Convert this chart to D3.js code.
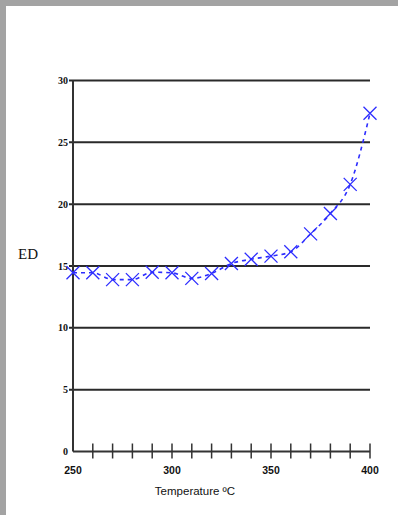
<!DOCTYPE html>
<html>
<head>
<meta charset="utf-8">
<script src="https://cdn.jsdelivr.net/npm/d3@7"></script>
<style>
  html, body { margin: 0; padding: 0; background: #a3a3a3; }
  svg { display: block; }
</style>
</head>
<body>
<svg id="chart" width="398" height="515"></svg>
<script>
// Temperature (°C) readings and ED values
const temperatures = [250, 260, 270, 280, 290, 300, 310, 320, 330, 340, 350, 360, 370, 380, 390, 400];
const edValues = [14.45, 14.45, 13.9, 13.9, 14.5, 14.45, 14.0, 14.4, 15.2, 15.55, 15.8, 16.15, 17.6, 19.25, 21.6, 27.35];
const yTicks = [0, 5, 10, 15, 20, 25, 30];
const xLabelTicks = [250, 300, 350, 400];
const xMinorTicks = [260, 270, 280, 290, 300, 310, 320, 330, 340, 350, 360, 370, 380, 390, 400];

const svg = d3.select("#chart");

// white page area inside the grey frame
svg.append("rect").attr("x", 6).attr("y", 6).attr("width", 392).attr("height", 509).attr("fill", "#ffffff");

const x = d3.scaleLinear().domain([250, 400]).range([73, 370]);
const y = d3.scaleLinear().domain([0, 30]).range([451.5, 80.5]);

// horizontal gridlines
svg.append("g").selectAll("line")
  .data(yTicks.filter(d => d > 0))
  .join("line")
  .attr("x1", 69).attr("x2", x(400))
  .attr("y1", d => y(d)).attr("y2", d => y(d))
  .attr("stroke", "#2a2a2a").attr("stroke-width", 2);

// y axis line
svg.append("line")
  .attr("x1", x(250)).attr("x2", x(250))
  .attr("y1", y(30)).attr("y2", y(0))
  .attr("stroke", "#333").attr("stroke-width", 2);

// x axis line
svg.append("line")
  .attr("x1", x(250)).attr("x2", x(400))
  .attr("y1", y(0)).attr("y2", y(0))
  .attr("stroke", "#333").attr("stroke-width", 2);

// x tick marks crossing the axis
svg.append("g").selectAll("line")
  .data(xMinorTicks)
  .join("line")
  .attr("x1", d => x(d)).attr("x2", d => x(d))
  .attr("y1", y(0) - 8).attr("y2", y(0) + 7)
  .attr("stroke", "#333").attr("stroke-width", 1.5);

// y tick labels
svg.append("g").selectAll("text")
  .data(yTicks)
  .join("text")
  .attr("x", 68).attr("y", d => y(d) + 3.5)
  .attr("text-anchor", "end")
  .attr("font-family", "Liberation Serif, serif")
  .attr("font-weight", "bold")
  .attr("font-size", 10)
  .attr("fill", "#111")
  .text(d => d);

// x tick labels
svg.append("g").selectAll("text")
  .data(xLabelTicks)
  .join("text")
  .attr("x", d => x(d)).attr("y", 474)
  .attr("text-anchor", "middle")
  .attr("font-family", "Liberation Sans Narrow, Liberation Sans, sans-serif")
  .attr("font-weight", "bold")
  .attr("font-size", 10.5)
  .attr("fill", "#111")
  .text(d => d);

// axis titles
svg.append("text")
  .attr("x", 195).attr("y", 495)
  .attr("text-anchor", "middle")
  .attr("font-family", "Liberation Sans Narrow, Liberation Sans, sans-serif")
  .attr("font-size", 11.5)
  .attr("fill", "#111")
  .text("Temperature ºC");

svg.append("text")
  .attr("x", 18).attr("y", 259)
  .attr("font-family", "Liberation Serif, serif")
  .attr("font-size", 15)
  .attr("fill", "#111")
  .text("ED");

// dashed series line
const line = d3.line()
  .x((d, i) => x(temperatures[i]))
  .y(d => y(d))
  .curve(d3.curveMonotoneX);

svg.append("path")
  .datum(edValues)
  .attr("d", line)
  .attr("fill", "none")
  .attr("stroke", "#2d2dff")
  .attr("stroke-width", 1.6)
  .attr("stroke-dasharray", "4,4");

// cross markers
const s = 6.5;
const markers = svg.append("g").selectAll("path")
  .data(edValues)
  .join("path")
  .attr("d", (d, i) => {
    const cx = x(temperatures[i]), cy = y(d);
    return `M${cx - s},${cy - s}L${cx + s},${cy + s}M${cx - s},${cy + s}L${cx + s},${cy - s}`;
  })
  .attr("stroke", "#2d2dff")
  .attr("stroke-width", 1.3)
  .attr("fill", "none");
</script>
</body>
</html>
